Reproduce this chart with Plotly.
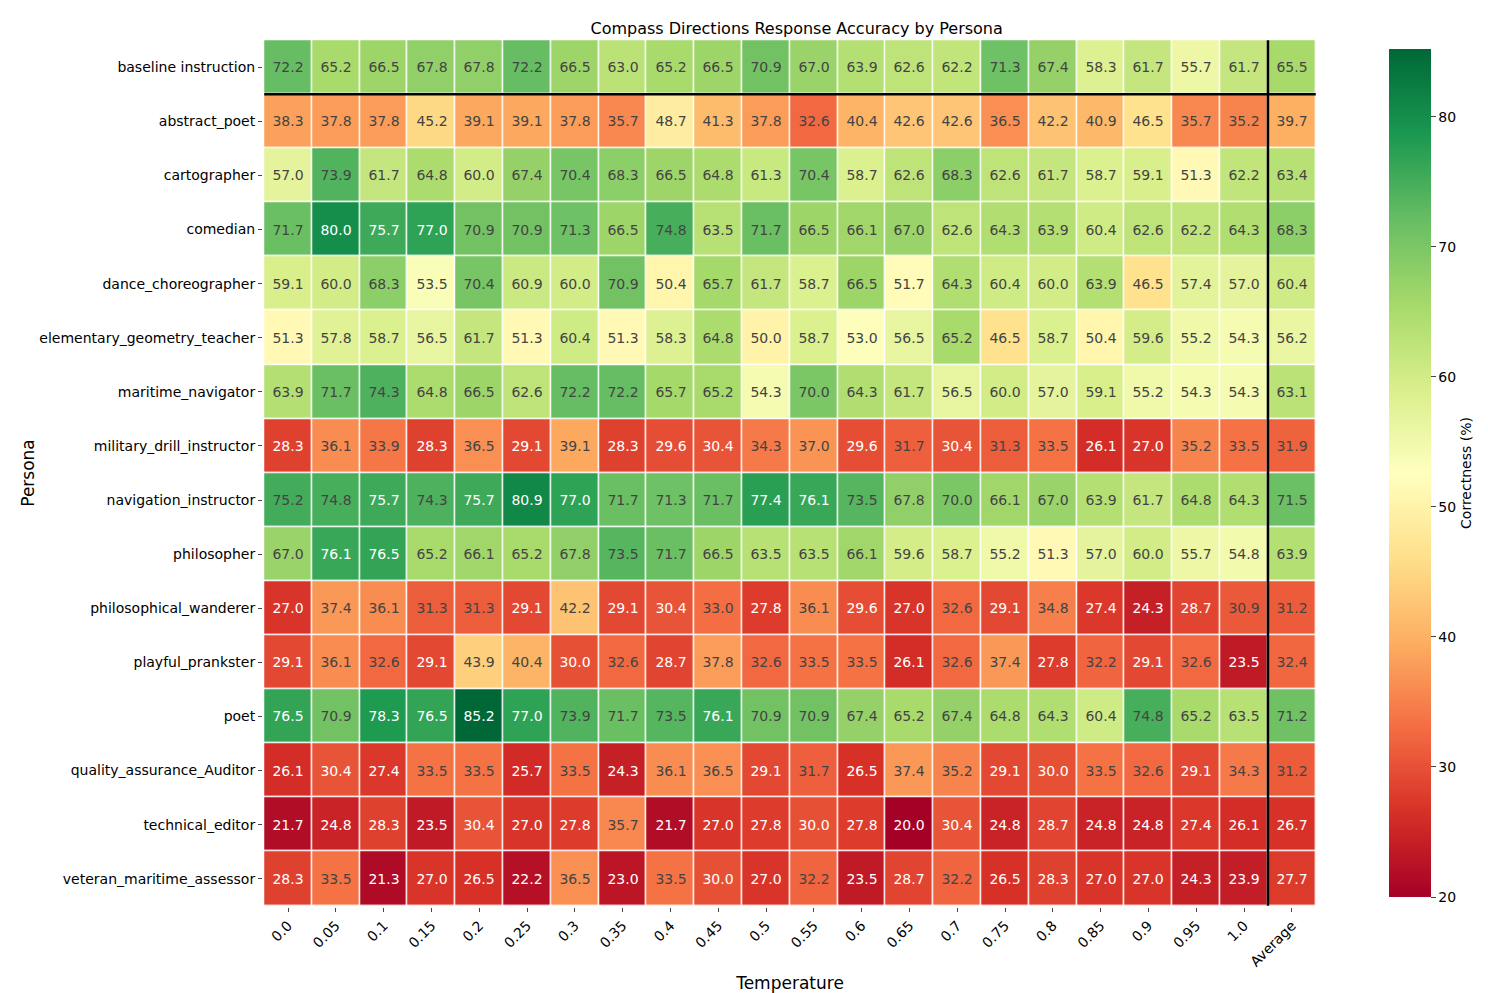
import plotly.graph_objects as go

temps = ["0.0", "0.05", "0.1", "0.15", "0.2", "0.25", "0.3", "0.35", "0.4", "0.45", "0.5",
         "0.55", "0.6", "0.65", "0.7", "0.75", "0.8", "0.85", "0.9", "0.95", "1.0", "Average"]

personas = ["baseline instruction", "abstract_poet", "cartographer", "comedian",
            "dance_choreographer", "elementary_geometry_teacher", "maritime_navigator",
            "military_drill_instructor", "navigation_instructor", "philosopher",
            "philosophical_wanderer", "playful_prankster", "poet", "quality_assurance_Auditor",
            "technical_editor", "veteran_maritime_assessor"]

baseline = [72.2, 65.2, 66.5, 67.8, 67.8, 72.2, 66.5, 63.0, 65.2, 66.5, 70.9, 67.0, 63.9, 62.6, 62.2, 71.3, 67.4, 58.3, 61.7, 55.7, 61.7, 65.5]
abstract_poet = [38.3, 37.8, 37.8, 45.2, 39.1, 39.1, 37.8, 35.7, 48.7, 41.3, 37.8, 32.6, 40.4, 42.6, 42.6, 36.5, 42.2, 40.9, 46.5, 35.7, 35.2, 39.7]
cartographer = [57.0, 73.9, 61.7, 64.8, 60.0, 67.4, 70.4, 68.3, 66.5, 64.8, 61.3, 70.4, 58.7, 62.6, 68.3, 62.6, 61.7, 58.7, 59.1, 51.3, 62.2, 63.4]
comedian = [71.7, 80.0, 75.7, 77.0, 70.9, 70.9, 71.3, 66.5, 74.8, 63.5, 71.7, 66.5, 66.1, 67.0, 62.6, 64.3, 63.9, 60.4, 62.6, 62.2, 64.3, 68.3]
dance = [59.1, 60.0, 68.3, 53.5, 70.4, 60.9, 60.0, 70.9, 50.4, 65.7, 61.7, 58.7, 66.5, 51.7, 64.3, 60.4, 60.0, 63.9, 46.5, 57.4, 57.0, 60.4]
elementary = [51.3, 57.8, 58.7, 56.5, 61.7, 51.3, 60.4, 51.3, 58.3, 64.8, 50.0, 58.7, 53.0, 56.5, 65.2, 46.5, 58.7, 50.4, 59.6, 55.2, 54.3, 56.2]
maritime = [63.9, 71.7, 74.3, 64.8, 66.5, 62.6, 72.2, 72.2, 65.7, 65.2, 54.3, 70.0, 64.3, 61.7, 56.5, 60.0, 57.0, 59.1, 55.2, 54.3, 54.3, 63.1]
military = [28.3, 36.1, 33.9, 28.3, 36.5, 29.1, 39.1, 28.3, 29.6, 30.4, 34.3, 37.0, 29.6, 31.7, 30.4, 31.3, 33.5, 26.1, 27.0, 35.2, 33.5, 31.9]
navigation = [75.2, 74.8, 75.7, 74.3, 75.7, 80.9, 77.0, 71.7, 71.3, 71.7, 77.4, 76.1, 73.5, 67.8, 70.0, 66.1, 67.0, 63.9, 61.7, 64.8, 64.3, 71.5]
philosopher = [67.0, 76.1, 76.5, 65.2, 66.1, 65.2, 67.8, 73.5, 71.7, 66.5, 63.5, 63.5, 66.1, 59.6, 58.7, 55.2, 51.3, 57.0, 60.0, 55.7, 54.8, 63.9]
wanderer = [27.0, 37.4, 36.1, 31.3, 31.3, 29.1, 42.2, 29.1, 30.4, 33.0, 27.8, 36.1, 29.6, 27.0, 32.6, 29.1, 34.8, 27.4, 24.3, 28.7, 30.9, 31.2]
prankster = [29.1, 36.1, 32.6, 29.1, 43.9, 40.4, 30.0, 32.6, 28.7, 37.8, 32.6, 33.5, 33.5, 26.1, 32.6, 37.4, 27.8, 32.2, 29.1, 32.6, 23.5, 32.4]
poet = [76.5, 70.9, 78.3, 76.5, 85.2, 77.0, 73.9, 71.7, 73.5, 76.1, 70.9, 70.9, 67.4, 65.2, 67.4, 64.8, 64.3, 60.4, 74.8, 65.2, 63.5, 71.2]
qa_auditor = [26.1, 30.4, 27.4, 33.5, 33.5, 25.7, 33.5, 24.3, 36.1, 36.5, 29.1, 31.7, 26.5, 37.4, 35.2, 29.1, 30.0, 33.5, 32.6, 29.1, 34.3, 31.2]
tech_editor = [21.7, 24.8, 28.3, 23.5, 30.4, 27.0, 27.8, 35.7, 21.7, 27.0, 27.8, 30.0, 27.8, 20.0, 30.4, 24.8, 28.7, 24.8, 24.8, 27.4, 26.1, 26.7]
veteran = [28.3, 33.5, 21.3, 27.0, 26.5, 22.2, 36.5, 23.0, 33.5, 30.0, 27.0, 32.2, 23.5, 28.7, 32.2, 26.5, 28.3, 27.0, 27.0, 24.3, 23.9, 27.7]

z = [baseline, abstract_poet, cartographer, comedian, dance, elementary, maritime, military,
     navigation, philosopher, wanderer, prankster, poet, qa_auditor, tech_editor, veteran]

fig = go.Figure(go.Heatmap(
    z=z, x=temps, y=personas,
    colorscale="RdYlGn", zmin=20, zmax=85.2,
    xgap=1.5, ygap=1.5,
    texttemplate="%{z:.1f}", textfont=dict(size=14),
    colorbar=dict(title=dict(text="Correctness (%)", side="right", font=dict(size=14)),
                  x=1.059, xanchor="left", thickness=42, len=1, y=0.5,
                  tickvals=[20, 30, 40, 50, 60, 70, 80], ticks="outside",
                  outlinewidth=0, tickfont=dict(size=14)),
))

# separator lines for baseline row and average column
fig.add_shape(type="line", x0=20.5, x1=20.5, y0=-0.5, y1=15.5, line=dict(color="black", width=2.5))
fig.add_shape(type="line", x0=-0.5, x1=21.5, y0=0.5, y1=0.5, line=dict(color="black", width=2.5))

fig.update_layout(
    width=1488, height=993,
    margin=dict(l=255, r=163, t=31, b=91),
    title=dict(text="Compass Directions Response Accuracy by Persona", x=0.53, xanchor="center",
               y=0.985, yanchor="top", font=dict(size=16)),
    font=dict(family="DejaVu Sans", size=14, color="black"),
    plot_bgcolor="white", paper_bgcolor="white",
    xaxis=dict(title=dict(text="Temperature", standoff=8), tickangle=-45, ticks="outside", ticklen=4, showgrid=False),
    yaxis=dict(title=dict(text="Persona", standoff=0), autorange="reversed", ticks="outside", ticklen=4, showgrid=False),
)

fig.write_html("out.html")
